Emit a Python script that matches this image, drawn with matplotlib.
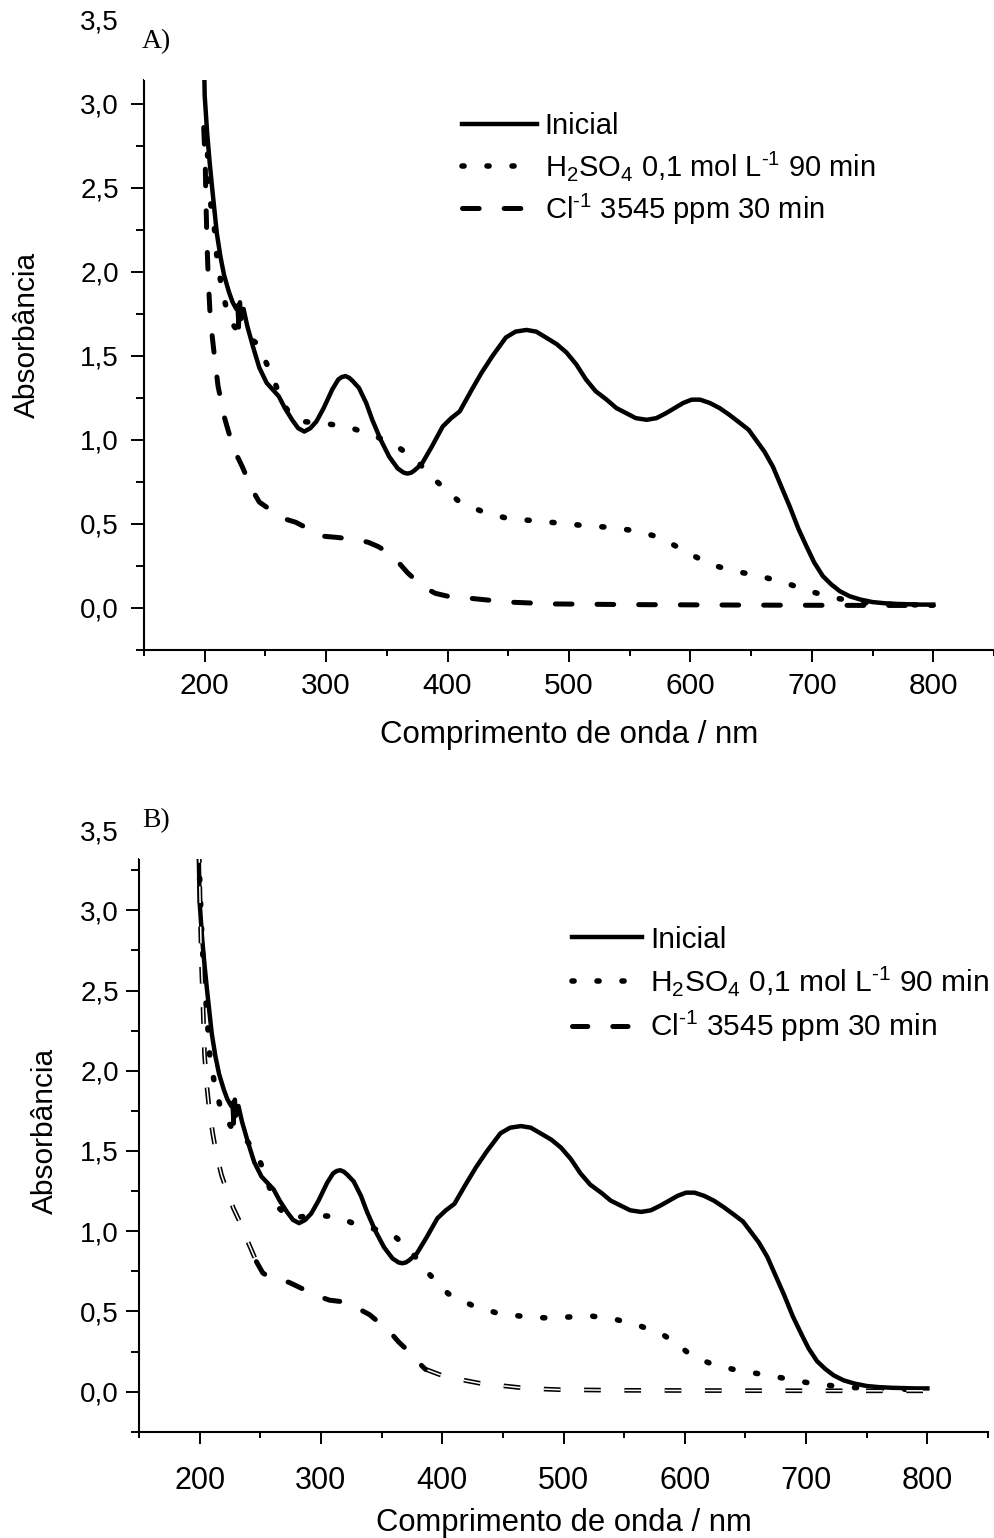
import numpy as np
import matplotlib
matplotlib.use('Agg')
import matplotlib.pyplot as plt
from matplotlib.ticker import FixedLocator, FuncFormatter
from matplotlib.patches import Rectangle

plt.rcParams['font.family'] = ['Liberation Sans', 'DejaVu Sans']
plt.rcParams['mathtext.fontset'] = 'custom'
plt.rcParams['mathtext.rm'] = 'Liberation Sans'
plt.rcParams['mathtext.default'] = 'regular'
plt.rcParams['lines.scale_dashes'] = False

# ---- dados ----
# Inicial (mesmo espectro nos dois paineis)
ini_nm = [199, 200, 202, 204, 206, 208, 210, 213, 216, 220, 223, 226, 227, 228, 229, 230,
          232, 235, 240, 245, 251, 256, 261, 266, 272, 277, 282, 287, 292, 298, 305, 310,
          313, 316, 319, 322, 327, 333, 338, 345, 352, 359, 364, 367, 370, 373, 379, 387,
          396, 403, 410, 420, 428, 437, 448, 456, 465, 473, 481, 490, 498, 506, 514, 522,
          531, 539, 547, 555, 564, 572, 580, 587, 594, 601, 608, 616, 624, 632, 641, 648,
          654, 661, 668, 675, 682, 689, 696, 702, 709, 716, 723, 731, 740, 750, 760, 770,
          780, 790, 800]
ini_abs = [3.45, 3.05, 2.83, 2.66, 2.51, 2.37, 2.23, 2.09, 1.98, 1.88, 1.82, 1.78, 1.80, 1.67, 1.82, 1.72,
           1.78, 1.68, 1.55, 1.43, 1.34, 1.30, 1.26, 1.19, 1.12, 1.07, 1.05, 1.07, 1.11, 1.19, 1.30, 1.36,
           1.375, 1.38, 1.37, 1.35, 1.31, 1.22, 1.12, 1.00, 0.90, 0.83, 0.805, 0.80, 0.805, 0.82, 0.86, 0.96,
           1.08, 1.13, 1.17, 1.30, 1.40, 1.50, 1.61, 1.645, 1.655, 1.645, 1.61, 1.57, 1.52, 1.45, 1.36, 1.29,
           1.24, 1.19, 1.16, 1.13, 1.12, 1.13, 1.16, 1.19, 1.22, 1.24, 1.24, 1.22, 1.19, 1.15, 1.10, 1.06,
           1.00, 0.93, 0.84, 0.72, 0.60, 0.47, 0.36, 0.27, 0.19, 0.14, 0.10, 0.07, 0.05, 0.035, 0.028, 0.024,
           0.022, 0.02, 0.02]

# Painel A - H2SO4
h2so4_a_nm = [201, 202, 203.3, 206, 208.8, 210, 213, 217, 222, 226, 231, 236, 242, 246, 250, 255,
              260, 266, 272, 280, 297, 317, 338, 357, 374, 390, 410, 430, 451, 471, 492, 513,
              533, 554, 575, 595, 616, 636, 657, 678, 698, 719, 738, 760, 780, 800]
h2so4_a_abs = [2.85, 2.79, 2.50, 2.35, 2.22, 2.09, 1.95, 1.81, 1.70, 1.66, 1.63, 1.61, 1.58, 1.53, 1.47, 1.39,
               1.30, 1.20, 1.14, 1.11, 1.10, 1.08, 1.03, 0.97, 0.88, 0.76, 0.63, 0.57, 0.53, 0.52, 0.505, 0.49,
               0.48, 0.46, 0.42, 0.34, 0.26, 0.22, 0.19, 0.15, 0.10, 0.06, 0.035, 0.022, 0.02, 0.015]

# Painel A - Cl-
cl_a_nm = [199.2, 200.5, 201, 202, 203, 204.5, 206, 208, 211, 213, 216, 220, 225, 231, 237, 241,
           245, 251, 258, 266, 275, 283, 293, 309, 327, 335, 343, 351, 359, 367, 375, 382,
           390, 400, 418, 450, 487, 550, 650, 750, 800]
cl_a_abs = [2.86, 2.63, 2.43, 2.15, 1.95, 1.74, 1.63, 1.50, 1.32, 1.25, 1.14, 1.04, 0.93, 0.84, 0.74, 0.68,
            0.63, 0.60, 0.55, 0.53, 0.51, 0.48, 0.43, 0.42, 0.405, 0.39, 0.365, 0.33, 0.276, 0.21, 0.157, 0.117,
            0.087, 0.07, 0.058, 0.035, 0.024, 0.02, 0.017, 0.015, 0.015]

# Painel B - H2SO4
h2so4_b_nm = [200, 202, 204, 206, 208.3, 212, 216.5, 222, 226, 231, 238, 245, 250, 254, 260, 266,
              274, 284, 294, 313, 333, 353, 362, 371, 379, 387, 396, 405, 424, 445, 465, 484,
              504, 524, 543, 563, 583, 593, 603, 613, 623, 642, 662, 682, 701, 721, 740, 760,
              780, 800]
h2so4_b_abs = [3.2, 2.8, 2.55, 2.35, 2.10, 1.93, 1.79, 1.70, 1.65, 1.61, 1.57, 1.51, 1.43, 1.35, 1.22, 1.14,
               1.08, 1.09, 1.10, 1.09, 1.03, 1.00, 0.96, 0.90, 0.83, 0.75, 0.68, 0.61, 0.54, 0.49, 0.47, 0.46,
               0.465, 0.47, 0.45, 0.41, 0.35, 0.30, 0.24, 0.20, 0.17, 0.135, 0.11, 0.083, 0.056, 0.037, 0.025, 0.018,
               0.015, 0.012]

# Painel B - Cl-
cl_b_nm = [199.5, 200, 201.4, 203, 204, 206, 208.3, 211, 213.8, 218, 223.4, 228, 233, 240, 246.8, 252,
           258, 266, 274, 285, 296, 307, 318, 330, 340, 348, 356, 364, 371, 378, 386, 393,
           400, 415, 431, 448, 464, 480, 497, 550, 650, 750, 800]
cl_b_abs = [3.4, 3.19, 2.69, 2.35, 2.10, 1.90, 1.73, 1.60, 1.48, 1.35, 1.23, 1.14, 1.06, 0.93, 0.81, 0.74,
            0.71, 0.70, 0.68, 0.64, 0.60, 0.57, 0.56, 0.52, 0.48, 0.43, 0.38, 0.31, 0.26, 0.20, 0.14, 0.12,
            0.10, 0.075, 0.052, 0.038, 0.025, 0.017, 0.012, 0.008, 0.006, 0.005, 0.005]

series_labels = ['Inicial',
                 r'H$_2$SO$_4$ 0,1 mol L$^{\text{-}1}$ 90 min',
                 r'Cl$^{\text{-}1}$ 3545 ppm 30 min']

x_major = [200, 300, 400, 500, 600, 700, 800]
x_minor = [150, 250, 350, 450, 550, 650, 750, 850]
y_major = [0.0, 0.5, 1.0, 1.5, 2.0, 2.5, 3.0, 3.5]

comma = FuncFormatter(lambda v, p: f'{v:.1f}'.replace('.', ','))

SOLID = dict(color='black', lw=3.2, solid_joinstyle='round')
DOTS = dict(color='black', lw=4.0, linestyle=(0, (1.5, 16.5)), dash_capstyle='round')


def style_axes(ax, y_top, y_minor, xtick_size, ytick_size, xpad, ypad):
    ax.set_xlim(150, 850)
    ax.set_ylim(-0.25, 3.5)
    for s in ['top', 'right']:
        ax.spines[s].set_visible(False)
    ax.spines['left'].set_bounds(-0.25, y_top)
    ax.spines['left'].set_linewidth(1.5)
    ax.spines['bottom'].set_linewidth(1.5)
    ax.xaxis.set_major_locator(FixedLocator(x_major))
    ax.xaxis.set_minor_locator(FixedLocator(x_minor))
    ax.yaxis.set_major_locator(FixedLocator(y_major))
    ax.yaxis.set_minor_locator(FixedLocator(y_minor))
    ax.yaxis.set_major_formatter(comma)
    ax.tick_params(axis='x', which='major', direction='out', length=8.5, width=1.4,
                   labelsize=xtick_size, pad=xpad)
    ax.tick_params(axis='x', which='minor', direction='out', length=4.5, width=1.4)
    ax.tick_params(axis='y', which='major', direction='out', length=9.5, width=1.4,
                   labelsize=ytick_size, pad=ypad)
    ax.tick_params(axis='y', which='minor', direction='out', length=6, width=1.4)
    # o rotulo 3,5 aparece sem o traco
    ax.yaxis.get_major_ticks()[-1].tick1line.set_visible(False)
    # parte de cima do grafico esta cortada
    ax.add_patch(Rectangle((150, y_top), 700, 3.5 - y_top, facecolor='white',
                           edgecolor='none', zorder=4))


fig = plt.figure(figsize=(9.95, 15.38), dpi=100)

# ---------------- A ----------------
axA = fig.add_axes([0.1447, 0.5774, 0.8543, 0.4096])
a1, = axA.plot(ini_nm, ini_abs, **SOLID)
a2, = axA.plot(h2so4_a_nm, h2so4_a_abs, **DOTS)
a3, = axA.plot(cl_a_nm, cl_a_abs, color='black', lw=3.6,
               linestyle=(0, (12, 18)), dash_capstyle='round')
style_axes(axA, 3.14, [-0.25, 0.25, 0.75, 1.25, 1.75, 2.25, 2.75], 21.5, 20, 7.5, 8.5)
axA.set_xlabel('Comprimento de onda / nm', fontsize=22.5)
axA.set_ylabel('Absorbância', fontsize=21.5)
axA.xaxis.set_label_coords(0.5, -0.111, transform=axA.transAxes)
axA.xaxis.label.set_va('top')
axA.yaxis.set_label_coords(-0.121, 0.5)
axA.text(160, 3.37, 'A)', family='Liberation Serif', fontsize=20,
         ha='center', va='center', zorder=6)
axA.legend([a1, a2, a3], series_labels, loc='upper left', bbox_to_anchor=(0.374, 0.854),
           frameon=False, fontsize=21, handlelength=2.57, handletextpad=0.27,
           labelspacing=0.3, borderpad=0, borderaxespad=0)

# ---------------- B ----------------
axB = fig.add_axes([0.1397, 0.0691, 0.8533, 0.3912])
cl_b_nm_arr = np.array(cl_b_nm)
cl_b_abs_arr = np.array(cl_b_abs)
b1, = axB.plot(ini_nm, ini_abs, **SOLID)
b2, = axB.plot(h2so4_b_nm, h2so4_b_abs, **DOTS)
# a curva do Cl- aparece grossa no meio e com traco duplo nas pontas
for m in [cl_b_nm_arr <= 247, cl_b_nm_arr >= 386]:
    axB.plot(cl_b_nm_arr[m], cl_b_abs_arr[m], color='black', lw=3.4,
             linestyle=(0, (12, 17)), dash_capstyle='butt')
    axB.plot(cl_b_nm_arr[m], cl_b_abs_arr[m], color='white', lw=1.1,
             linestyle=(0, (12, 17)), dash_capstyle='butt')
mid = (cl_b_nm_arr >= 246.8) & (cl_b_nm_arr <= 386)
b3, = axB.plot(cl_b_nm_arr[mid], cl_b_abs_arr[mid], color='black', lw=3.6,
               linestyle=(0, (11, 18)), dash_capstyle='round')
style_axes(axB, 3.32, [-0.25, 0.25, 0.75, 1.25, 1.75, 2.25, 2.75, 3.25], 22, 20, 16.5, 5.0)
axB.set_xlabel('Comprimento de onda / nm', fontsize=22.3)
axB.set_ylabel('Absorbância', fontsize=21.5)
axB.xaxis.set_label_coords(0.5, -0.1268, transform=axB.transAxes)
axB.xaxis.label.set_va('top')
axB.yaxis.set_label_coords(-0.0942, 0.5)
axB.text(164, 3.56, 'B)', family='Liberation Serif', fontsize=20,
         ha='center', va='center', zorder=6)
axB.legend([b1, b2, b3], series_labels, loc='upper left', bbox_to_anchor=(0.5097, 0.841),
           frameon=False, fontsize=21.5, handlelength=2.34, handletextpad=0.28,
           labelspacing=0.36, borderpad=0, borderaxespad=0)

fig.savefig('out.png', dpi=100)
